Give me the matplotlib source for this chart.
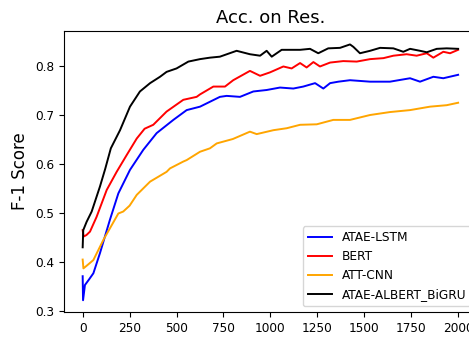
import matplotlib
matplotlib.use("Agg")
import matplotlib.pyplot as plt
import numpy as np

# values (iterations vs F-1 score)
lstm_x = [0, 2, 12, 35, 57, 92, 145, 190, 252, 323, 394, 483, 554, 625, 678, 731,
          767, 838, 909, 980, 1051, 1122, 1175, 1238, 1282, 1318, 1362, 1424, 1531,
          1637, 1744, 1797, 1868, 1921, 2000]
lstm_y = [0.371, 0.322, 0.353, 0.365, 0.377, 0.418, 0.486, 0.540, 0.588, 0.629, 0.663,
          0.690, 0.710, 0.717, 0.727, 0.737, 0.739, 0.737, 0.748, 0.751, 0.756, 0.754,
          0.758, 0.765, 0.754, 0.765, 0.768, 0.771, 0.768, 0.768, 0.775, 0.768, 0.778,
          0.775, 0.782]

bert_x = [0, 5, 20, 39, 74, 128, 181, 234, 288, 330, 376, 447, 536, 607, 625, 696,
          758, 802, 891, 945, 998, 1069, 1113, 1158, 1193, 1229, 1264, 1318, 1388,
          1460, 1531, 1602, 1655, 1726, 1779, 1833, 1868, 1921, 1957, 2000]
bert_y = [0.465, 0.452, 0.455, 0.462, 0.492, 0.547, 0.584, 0.618, 0.652, 0.672, 0.680,
          0.707, 0.731, 0.737, 0.742, 0.758, 0.758, 0.771, 0.790, 0.780, 0.787, 0.799,
          0.795, 0.806, 0.797, 0.808, 0.799, 0.807, 0.810, 0.809, 0.814, 0.816, 0.821,
          0.824, 0.821, 0.826, 0.817, 0.829, 0.826, 0.833]

cnn_x = [0, 4, 20, 57, 110, 190, 216, 250, 288, 359, 447, 465, 536, 554, 625, 678,
         714, 800, 891, 927, 1016, 1087, 1158, 1247, 1335, 1424, 1531, 1637, 1744,
         1850, 1939, 2000]
cnn_y = [0.405, 0.387, 0.392, 0.404, 0.445, 0.499, 0.503, 0.515, 0.537, 0.564, 0.584,
         0.591, 0.605, 0.608, 0.625, 0.632, 0.642, 0.651, 0.666, 0.661, 0.669, 0.673,
         0.680, 0.681, 0.690, 0.690, 0.700, 0.706, 0.710, 0.717, 0.720, 0.725]

ours_x = [0, 3, 21, 48, 92, 120, 150, 199, 252, 305, 359, 412, 447, 500, 563, 625,
          678, 731, 820, 891, 945, 980, 1007, 1060, 1158, 1211, 1255, 1308, 1371,
          1424, 1442, 1477, 1531, 1584, 1655, 1708, 1744, 1797, 1833, 1886, 1939, 2000]
ours_y = [0.430, 0.465, 0.482, 0.503, 0.554, 0.590, 0.632, 0.669, 0.717, 0.748, 0.765,
          0.778, 0.788, 0.795, 0.809, 0.814, 0.817, 0.819, 0.831, 0.824, 0.821, 0.831,
          0.819, 0.833, 0.833, 0.835, 0.826, 0.836, 0.837, 0.844, 0.839, 0.826, 0.831,
          0.837, 0.836, 0.829, 0.835, 0.831, 0.828, 0.835, 0.836, 0.835]

fig = plt.figure(figsize=(4.69, 3.37), dpi=100)
# the right edge of the axes is cut off in the reference
ax = fig.add_axes([63.9 / 469, 25 / 337, 413 / 469, 281 / 337])

lw = 1.4
ax.plot(lstm_x, lstm_y, color="blue", lw=lw, label="ATAE-LSTM")
ax.plot(bert_x, bert_y, color="red", lw=lw, label="BERT")
ax.plot(cnn_x, cnn_y, color="orange", lw=lw, label="ATT-CNN")
ax.plot(ours_x, ours_y, color="black", lw=lw, label="ATAE-ALBERT_BiGRU")

ax.set_xlim(-100, 2100)
ax.set_ylim(0.298, 0.8714)
ax.set_xticks([0, 250, 500, 750, 1000, 1250, 1500, 1750, 2000])
ax.set_yticks([0.3, 0.4, 0.5, 0.6, 0.7, 0.8])
ax.tick_params(labelsize=8.7)
ax.set_title("Acc. on Res.", fontsize=13)
ax.set_ylabel("F-1 Score", fontsize=12)
ax.legend(loc="lower right", fontsize=8.7)

fig.savefig("out.png", dpi=100)
